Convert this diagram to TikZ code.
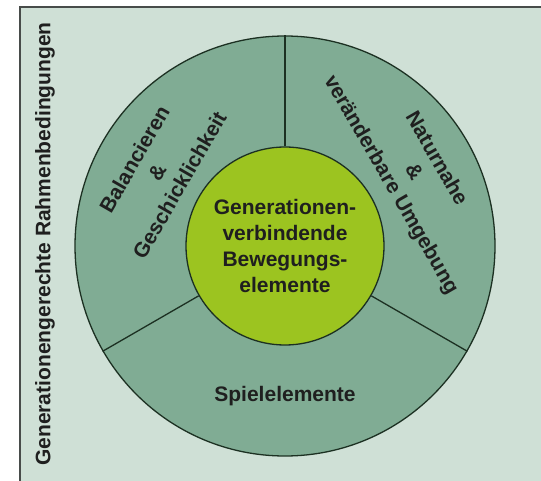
\documentclass[tikz,border=0pt]{standalone}
\usepackage{fontspec}
\setmainfont{Liberation Sans}
\definecolor{nebel}{RGB}{207, 224, 214}
\definecolor{salbei}{RGB}{128, 172, 148}
\definecolor{limette}{RGB}{156, 196, 32}
\definecolor{tanne}{RGB}{28, 48, 34}
\definecolor{schiefer}{RGB}{72, 76, 74}

\begin{document}
\begin{tikzpicture}[x=1pt, y=1pt,
    schrift/.style={font=\fontsize{21}{26}\selectfont\bfseries, text=black!88, align=center, inner sep=0pt},
    scheibe/.style={circle, draw=tanne, line width=1.3pt, inner sep=0pt}]
    \useasboundingbox (0,0) rectangle (541,480);
    \clip (0,0) rectangle (541,480);
    \fill[white] (0,0) rectangle (541,480);
    \filldraw[schiefer, fill=nebel, line width=1.5pt] (20,-10) rectangle (560,473);
    \coordinate (mitte) at (285,234);
    \node[scheibe, fill=salbei,  minimum size=420pt] (ring) at (mitte) {};
    \node[scheibe, fill=limette, minimum size=198pt, schrift] (kern) at (mitte)
         {Generationen-\\verbindende\\Bewegungs-\\elemente};
    \foreach \w in {90,210,330}
        \draw[tanne, line width=1.3pt] (kern.\w) -- (ring.\w);
    \node[schrift, rotate=60]  (balance) at ([shift={(150:148)}]mitte) {Balancieren\\\&\\Geschicklichkeit};
    \node[schrift, rotate=-60] (natur)   at ([shift={(30:148)}]mitte)  {Naturnahe\\\&\\veränderbare Umgebung};
    \node[schrift]             (spiel)   at ([shift={(270:150)}]mitte) {Spielelemente};
    \node[schrift, rotate=90]  (rahmen)  at (45,236) {Generationengerechte Rahmenbedingungen};
\end{tikzpicture}
\end{document}
